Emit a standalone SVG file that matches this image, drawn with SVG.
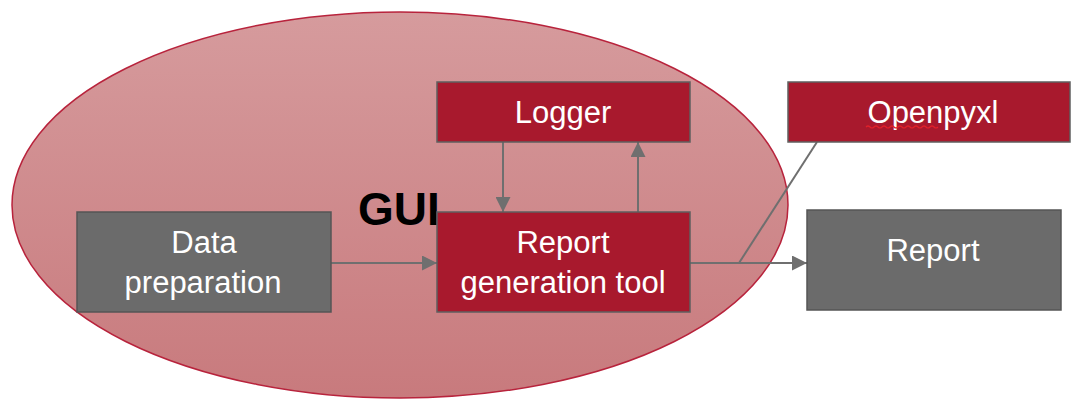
<svg xmlns="http://www.w3.org/2000/svg" width="1073" height="399" viewBox="0 0 1073 399">
  <defs>
    <linearGradient id="guiFill" x1="0" y1="0" x2="0" y2="1">
      <stop offset="0" stop-color="#d69b9d"/>
      <stop offset="1" stop-color="#c87a7d"/>
    </linearGradient>
    <marker id="arrow" viewBox="0 0 10 10" refX="10" refY="5" markerWidth="8" markerHeight="7.5" orient="auto" markerUnits="strokeWidth">
      <path d="M0,0 L10,5 L0,10 z" fill="#6f6f6f"/>
    </marker>
  </defs>
  <style>
    .red { fill: #a8192d; stroke: #5f5f5f; stroke-width: 1.5; }
    .grey { fill: #6b6b6b; stroke: #555555; stroke-width: 1.5; }
    .label { font-family: "Liberation Sans", Arial, sans-serif; font-size: 31px; fill: #ffffff; text-anchor: middle; }
    .conn { stroke: #6f6f6f; stroke-width: 2; fill: none; }
  </style>

  <!-- GUI container -->
  <g id="gui">
    <ellipse cx="400" cy="205" rx="388" ry="193" fill="url(#guiFill)" stroke="#b8233c" stroke-width="1.5"/>
    <text x="358" y="225" font-family="Liberation Sans, Arial, sans-serif" font-weight="bold" font-size="46" fill="#000000">GUI</text>
  </g>

  <!-- connectors -->
  <g id="connectors">
    <line class="conn" x1="331" y1="263" x2="437" y2="263" marker-end="url(#arrow)"/>
    <line class="conn" x1="503" y1="142" x2="503" y2="212" marker-end="url(#arrow)"/>
    <line class="conn" x1="638" y1="212" x2="638" y2="142" marker-end="url(#arrow)"/>
    <line class="conn" x1="690" y1="263" x2="807" y2="263" marker-end="url(#arrow)"/>
    <line class="conn" x1="739" y1="263" x2="817" y2="142"/>
  </g>

  <g id="data-preparation">
    <rect class="grey" x="77" y="212" width="254" height="100"/>
    <text class="label" x="204" y="253">Data</text>
    <text class="label" x="203" y="293">preparation</text>
  </g>

  <g id="report-generation-tool">
    <rect class="red" x="437" y="212" width="253" height="100"/>
    <text class="label" x="563" y="253">Report</text>
    <text class="label" x="563" y="293">generation tool</text>
  </g>

  <g id="logger">
    <rect class="red" x="437" y="82" width="253" height="60"/>
    <text class="label" x="563" y="123">Logger</text>
  </g>

  <g id="openpyxl">
    <rect class="red" x="788" y="82" width="282" height="60"/>
    <text class="label" x="933" y="123">Openpyxl</text>
    <path d="M866,127 q2,-2 4,0 t4,0 t4,0 t4,0 t4,0 t4,0 t4,0 t4,0 t4,0 t4,0 t4,0 t4,0 t4,0 t4,0 t4,0 t4,0 t4,0 t4,0" fill="none" stroke="#e0202a" stroke-width="1.2"/>
  </g>

  <g id="report">
    <rect class="grey" x="807" y="210" width="254" height="100"/>
    <text class="label" x="933" y="261">Report</text>
  </g>
</svg>
